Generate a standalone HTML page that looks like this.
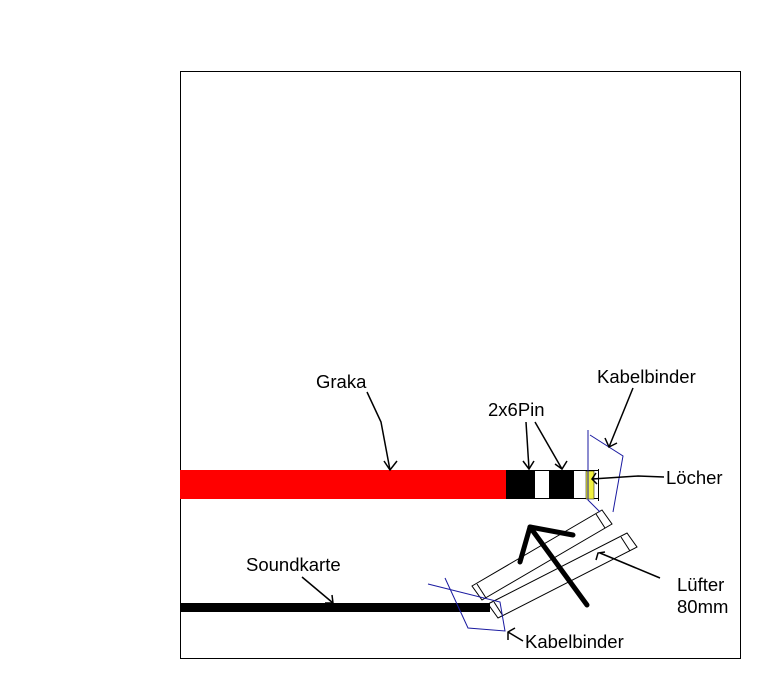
<!DOCTYPE html>
<html><head><meta charset="utf-8"><style>
html,body{margin:0;padding:0;background:#fff;}
svg{display:block;}
text{font-family:"Liberation Sans",Arial,sans-serif;font-size:18.5px;fill:#000;}
</style></head><body>
<svg width="768" height="692" viewBox="0 0 768 692" xmlns="http://www.w3.org/2000/svg">
<rect x="180.5" y="71.5" width="560" height="587" fill="#fff" stroke="#000" stroke-width="1"/>
<rect x="180" y="470" width="326" height="29" fill="#ff0000"/>
<rect x="506" y="470" width="29" height="29" fill="#000"/>
<rect x="549" y="470" width="25" height="29" fill="#000"/>
<line x1="535" y1="470.5" x2="598" y2="470.5" stroke="#000"/>
<line x1="535" y1="498.5" x2="598" y2="498.5" stroke="#000"/>
<rect x="586" y="471" width="8" height="28" fill="#f0f040" stroke="#000" stroke-width="0.5"/>
<line x1="598.5" y1="469" x2="598.5" y2="501" stroke="#000"/>
<rect x="180" y="603" width="310" height="9" fill="#000"/>
<g fill="none" stroke="#000" stroke-width="1">
<polygon points="472,586 602,510 612,524 482,600"/>
<line x1="477" y1="584" x2="486" y2="598"/>
<line x1="596" y1="514" x2="605" y2="528"/>
<polygon points="488,604 627,533 637,547 498,618"/>
<line x1="494" y1="602" x2="503" y2="616"/>
<line x1="621" y1="537" x2="630" y2="551"/>
</g>
<g fill="none" stroke="#1a1aa0" stroke-width="1">
<polyline points="588,430 588,500 600,512"/>
<polyline points="590,435 623,456 613,512"/>
<polyline points="428,584 500,602 505,631 468,628 445,578"/>
</g>
<g stroke="#000" stroke-width="5" stroke-linecap="round" fill="none">
<line x1="587" y1="605" x2="530" y2="527"/>
<line x1="530" y1="527" x2="520" y2="562"/>
<line x1="530" y1="527" x2="573" y2="535"/>
</g>
<g stroke="#000" stroke-width="1.5" fill="none">
<polyline points="367,392 381,422 390,470"/>
<polyline points="384,461 390,470 397,461"/>
<polyline points="526,422 529,469"/>
<polyline points="523,461 529,469 534,461"/>
<polyline points="535,422 562,469"/>
<polyline points="555,464 562,469 567,461"/>
<polyline points="633,388 609,447"/>
<polyline points="605,438 609,447 617,443"/>
<polyline points="664,477 638,476 592,479"/>
<polyline points="596,473 592,479 597,484"/>
<polyline points="302,577 333,603"/>
<polyline points="325,603 333,603 332,595"/>
<polyline points="660,578 600,553"/>
<polyline points="596,560 598,553 605,552"/>
<polyline points="523,641 508,632"/>
<polyline points="508,640 508,632 515,628"/>
</g>
<text x="316" y="388">Graka</text>
<text x="597" y="383">Kabelbinder</text>
<text x="488" y="416">2x6Pin</text>
<text x="666" y="484">Löcher</text>
<text x="246" y="571">Soundkarte</text>
<text x="525" y="648">Kabelbinder</text>
<text x="677" y="591">Lüfter</text>
<text x="677" y="613">80mm</text>
</svg>
</body></html>
